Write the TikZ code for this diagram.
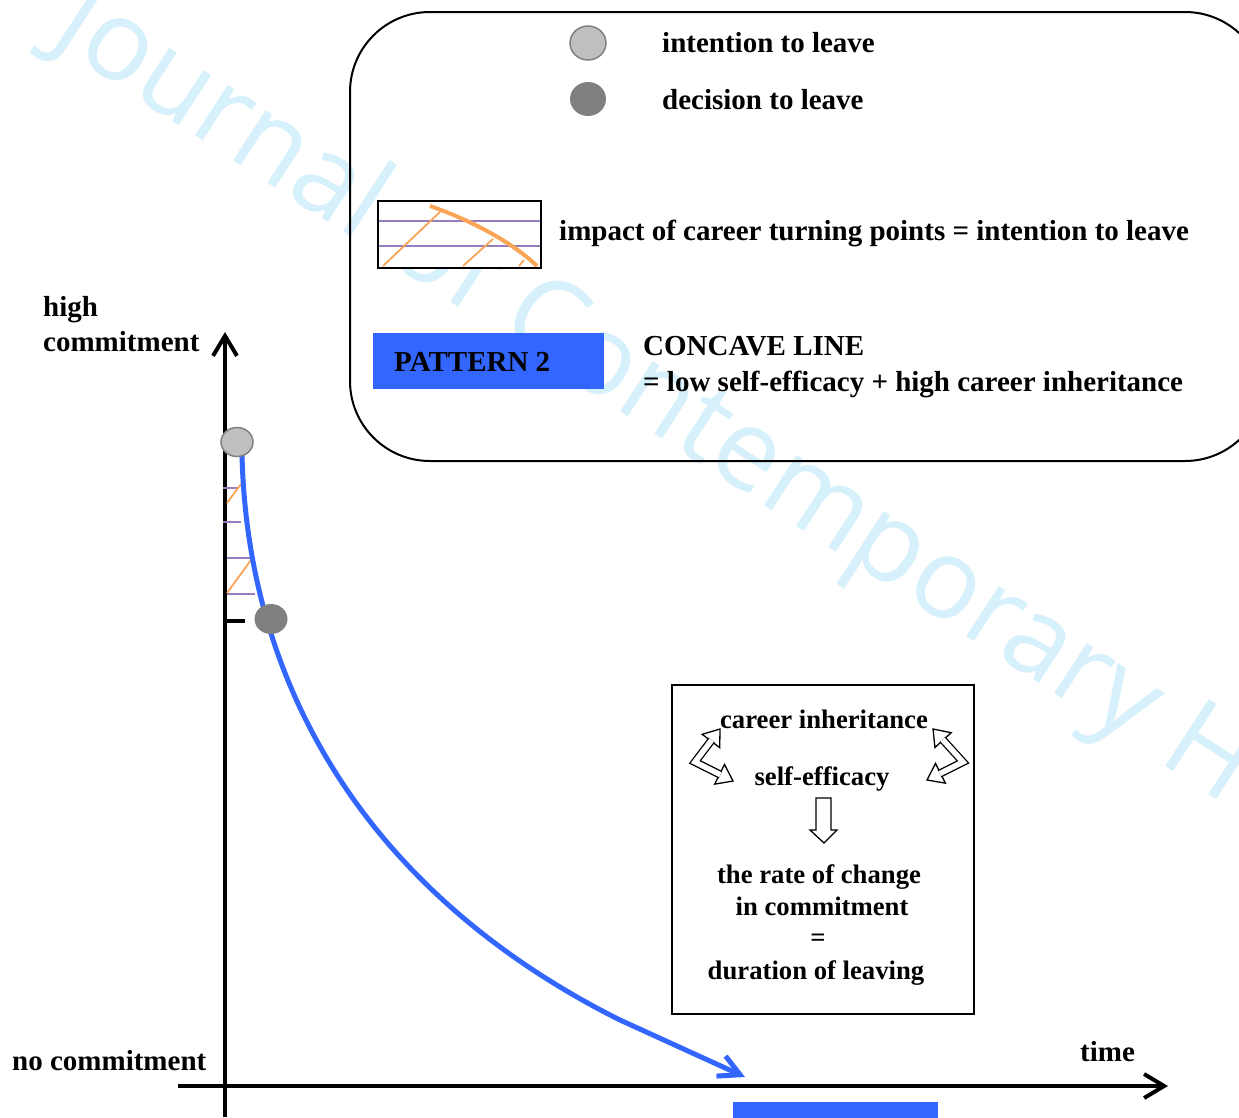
\documentclass[tikz,border=0pt]{standalone}
\usepackage{fontspec}
\setmainfont{Liberation Serif}
\newfontfamily\wmfont{Open Sans}
\usetikzlibrary{arrows.meta,calc,shapes.geometric}
\definecolor{pblue}{RGB}{51,102,255}
\definecolor{porange}{RGB}{250,165,85}
\definecolor{ppurple}{RGB}{150,125,190}
\definecolor{wmark}{RGB}{214,240,252}
\definecolor{lgray}{RGB}{191,191,191}
\definecolor{dgray}{RGB}{128,128,128}
\newcommand{\bhead}[2]{%
  \path ($(#1)!15pt!(#2)$) coordinate (hb);
  \filldraw[fill=white,draw=black,line width=1.3pt,line join=miter]
    (#1) -- ($(hb)!11pt!90:(#1)$) -- ($(hb)!11pt!-90:(#1)$) -- cycle;
}
\newcommand{\bshaft}[3]{%
  \draw[line width=1.3pt,double=white,double distance=5.5pt,line join=miter]
    ($(#1)!14pt!(#2)$) -- (#2) -- ($(#3)!14pt!(#2)$);
}
\begin{document}
\begin{tikzpicture}[x=1pt,y=-1pt,
  lbl/.style={font=\fontsize{29}{33}\selectfont\bfseries,inner sep=0pt,anchor=west,text height=0.7em,text depth=0.25em,yshift=-7pt},
  boxlbl/.style={font=\fontsize{26.7}{30}\selectfont\bfseries,inner sep=0pt,text height=0.7em,text depth=0.25em,yshift=-6pt},
  axisline/.style={line width=4pt,-{Straight Barb[length=20pt,width=24pt]}},
  lcirc/.style={ellipse,fill=lgray,draw=dgray,line width=1.5pt,inner sep=0pt},
  dcirc/.style={ellipse,fill=dgray,inner sep=0pt},
  hatchp/.style={ppurple,line width=2pt},
  hatcho/.style={porange,line width=1.8pt},
  frame/.style={draw=black,line width=2pt}]
\useasboundingbox (0,0) rectangle (1239,1117);
\clip (0,0) rectangle (1239,1117);
\fill[white] (0,0) rectangle (1239,1117);
% watermark
\node[font=\wmfont\fontsize{112}{112}\selectfont,text=wmark,rotate=-33,anchor=base west,inner sep=0pt] (wm) at (48,40) {Journal of Contemporary H};

% legend frame
\draw[frame,rounded corners=80pt] (350,12) rectangle (1265,461);
\node[lcirc,minimum width=36pt,minimum height=34pt] (li) at (588,43) {};
\node[dcirc,minimum width=36pt,minimum height=34pt] (ld) at (588,99) {};
\node[lbl] (lit) at (662,43) {intention to leave};
\node[lbl] (ldt) at (662,100) {decision to leave};

% small impact box
\node[fill=white,minimum width=163pt,minimum height=67pt,inner sep=0pt,anchor=north west] (ibox) at (378,201) {};
\draw[hatchp] (379,221) -- (540,221);
\draw[hatchp] (379,246) -- (540,246);
\draw[porange,line width=4pt] (430,206) .. controls (465,218) and (510,240) .. (537,266);
\draw[hatcho] (383,266) -- (441,211);
\draw[hatcho] (463,266) -- (493,239);
\draw[hatcho] (519,266) -- (524,260);
\draw[frame] (ibox.north west) rectangle (ibox.south east);
\node[lbl] (ibt) at (559,231) {impact of career turning points = intention to leave};

% pattern box
\node[fill=pblue,minimum width=231pt,minimum height=56pt,inner sep=0pt,anchor=north west] (pat) at (373,333) {};
\node[lbl] (patt) at (394,362) {PATTERN 2};
\node[lbl] (cl) at (643,346) {CONCAVE LINE};
\node[lbl] (eq) at (643,382) {= low self-efficacy + high career inheritance};

% axes
\coordinate (ybot) at (225,1117);
\coordinate (ytop) at (225,332);
\coordinate (xl) at (178,1086);
\coordinate (xr) at (1168,1086);
\draw[axisline] (ybot) -- (ytop);
\draw[axisline] (xl) -- (xr);
\node[lbl] (hi) at (43,307) {high};
\node[lbl] (hc) at (43,342) {commitment};
\node[lbl] (nc) at (12,1061) {no commitment};
\node[lbl] (tm) at (1080,1052) {time};

% hatch on axis
\draw[hatchp] (223,488) -- (238,488);
\draw[hatchp] (223,522) -- (241,522);
\draw[hatchp] (227,558) -- (252,558);
\draw[hatchp] (227,594) -- (255,594);
\draw[hatcho] (227,503) -- (241,484);
\draw[hatcho] (227,593) -- (251,560);
\draw[line width=4pt] (227,621) -- (245,621);

% curve
\coordinate (cs) at (242,455);
\coordinate (ck) at (620,1020);
\coordinate (ce) at (745,1077);
\draw[pblue,line width=5pt,-{Straight Barb[length=21pt,width=22pt]}] (cs) .. controls (248,700) and (380,900) .. (ck) -- (ce);
\node[lcirc,minimum width=32pt,minimum height=29pt] (c1) at (237,442) {};
\node[dcirc,minimum width=33pt,minimum height=30pt] (c2) at (271,619) {};

% right box
\node[frame,minimum width=302pt,minimum height=329pt,inner sep=0pt,anchor=north west] (rbox) at (671,684) {};
\node[boxlbl] (ci) at (824,720) {career inheritance};
\node[boxlbl] (se) at (822,777) {self-efficacy};
\node[boxlbl] (rc1) at (819,875) {the rate of change};
\node[boxlbl] (rc2) at (822,907) {in commitment};
\node[boxlbl] (req) at (818,938) {=};
\node[boxlbl] (dl) at (816,971) {duration of leaving};
\filldraw[fill=white,line width=1.3pt,line join=miter] (816,798) -- (831,798) -- (831,830) -- (837,830) -- (824,843) -- (810,830) -- (816,830) -- cycle;
% bidirectional block arrows
\coordinate (a1) at (720,729);
\coordinate (am) at (695,762);
\coordinate (a2) at (733,781);
\bhead{a1}{am}
\bhead{a2}{am}
\bshaft{a1}{am}{a2}
\coordinate (b1) at (933,729);
\coordinate (bm) at (963,762);
\coordinate (b2) at (927,780);
\bhead{b1}{bm}
\bhead{b2}{bm}
\bshaft{b1}{bm}{b2}

% bottom bar
\node[fill=pblue,minimum width=205pt,minimum height=20pt,inner sep=0pt,anchor=north west] (bar) at (733,1102) {};
\end{tikzpicture}
\end{document}
